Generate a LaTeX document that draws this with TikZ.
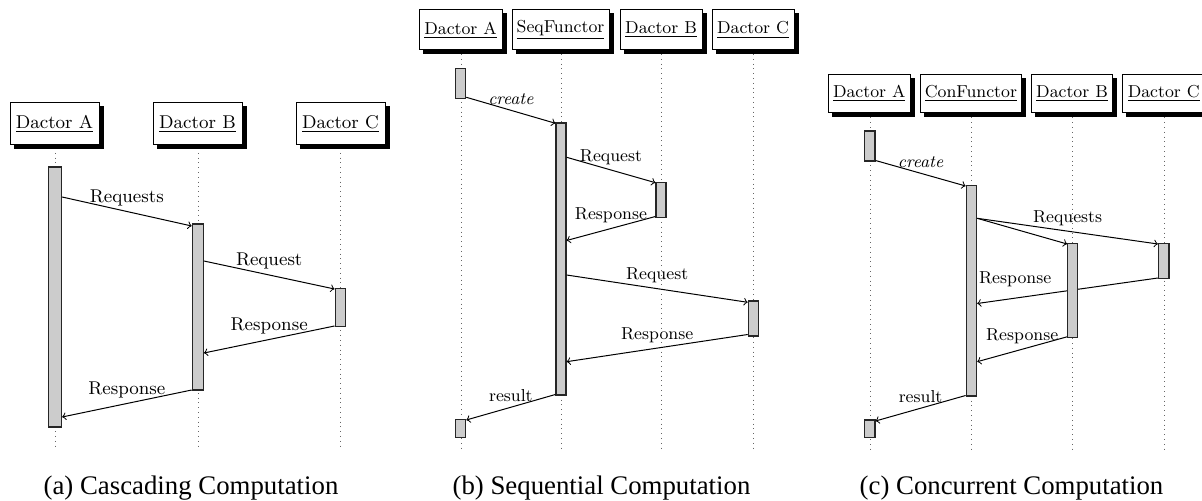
\documentclass[tikz,border=0pt]{standalone}
\usepackage{fontspec}
\setmainfont{Latin Modern Roman}
\newfontfamily\capfont{Liberation Serif}
\usetikzlibrary{shadows}
\tikzset{
  fa/.style={font=\fontsize{9.25}{11}\selectfont},
  fb/.style={font=\fontsize{8.65}{10}\selectfont},
  hdr/.style={draw=black, fill=white, inner sep=0pt, line width=0.5pt,
    general shadow={fill=black, draw=black, shadow xshift=2pt, shadow yshift=-2pt}},
  life/.style={draw=black!60, dotted, line width=0.4pt},
  act/.style={draw=black!85, fill=black!20, inner sep=0pt, line width=0.6pt},
  msg/.style={draw=black, ->, line width=0.5pt},
  lbl/.style={above, inner sep=2.5pt},
  captext/.style={font=\capfont\fontsize{13.4}{15}\selectfont, inner sep=0pt}
}
\begin{document}
\begin{tikzpicture}[x=0.5pt,y=-0.5pt]
\useasboundingbox (0,0) rectangle (1202,501);
% ================= (a) =================
\begin{scope}[fa]
\coordinate (aAe) at (55,450);
\coordinate (aBe) at (198,450);
\coordinate (aCe) at (340.5,450);
\draw[life] (55,124) -- (aAe);
\draw[life] (198,124) -- (aBe);
\draw[life] (340.5,124) -- (aCe);
\node[hdr, minimum width=44.5pt, minimum height=21pt] (aA) at (54.5,124) {\underline{Dactor A}};
\node[hdr, minimum width=44.5pt, minimum height=21pt] (aB) at (197.5,124) {\underline{Dactor B}};
\node[hdr, minimum width=44.5pt, minimum height=21pt] (aC) at (340.5,124) {\underline{Dactor C}};
\node[act, minimum width=6.5pt, minimum height=130pt] (aactA) at (55,297) {};
\node[act, minimum width=5.5pt, minimum height=83pt] (aactB) at (197.8,307) {};
\node[act, minimum width=5.3pt, minimum height=19pt] (aactC) at (340.4,307.5) {};
\draw[msg] (aactA.east |- 0,197) -- node[lbl]{Requests} (aactB.west |- 0,226);
\draw[msg] (aactB.east |- 0,261) -- node[lbl]{Request} (aactC.west |- 0,289);
\draw[msg] (aactC.west |- 0,326) -- node[lbl]{Response} (aactB.east |- 0,353);
\draw[msg] (aactB.west |- 0,390) -- node[lbl]{Response} (aactA.east |- 0,417);
\end{scope}
\node[captext] (capa) at (191,488) {(a) Cascading Computation};
% ================= (b) =================
\begin{scope}[fb]
\coordinate (bAe) at (461,451);
\coordinate (bSe) at (561,451);
\coordinate (bBe) at (661,451);
\coordinate (bCe) at (753,451);
\draw[life] (461,30) -- (bAe);
\draw[life] (561,30) -- (bSe);
\draw[life] (661,30) -- (bBe);
\draw[life] (753,30) -- (bCe);
\node[hdr, minimum width=41.5pt, minimum height=20pt] (bA) at (460.5,30) {\underline{Dactor A}};
\node[hdr, minimum width=48.5pt, minimum height=20pt] (bS) at (560.5,30) {\underline{SeqFunctor}};
\node[hdr, minimum width=41pt, minimum height=20pt] (bB) at (661,30) {\underline{Dactor B}};
\node[hdr, minimum width=41pt, minimum height=20pt] (bC) at (753,30) {\underline{Dactor C}};
\node[act, minimum width=5pt, minimum height=15pt] (bactA1) at (460.7,83.3) {};
\node[act, minimum width=5pt, minimum height=136pt] (bactS) at (561,259) {};
\node[act, minimum width=5pt, minimum height=17.5pt] (bactB) at (661,199.8) {};
\node[act, minimum width=5pt, minimum height=17.5pt] (bactC) at (753.3,318.5) {};
\node[act, minimum width=5pt, minimum height=9pt] (bactA2) at (460.7,428.3) {};
\draw[msg] (bactA1.east |- 0,97.3) -- node[lbl]{\itshape create} (bactS.west |- 0,123.3);
\draw[msg] (bactS.east |- 0,157.3) -- node[lbl]{Request} (bactB.west |- 0,182.7);
\draw[msg] (bactB.west |- 0,216.5) -- node[lbl]{Response} (bactS.east |- 0,240.5);
\draw[msg] (bactS.east |- 0,275) -- node[lbl]{Request} (bactC.west |- 0,302.3);
\draw[msg] (bactC.west |- 0,334.5) -- node[lbl]{Response} (bactS.east |- 0,361.7);
\draw[msg] (bactS.west |- 0,394.5) -- node[lbl]{result} (bactA2.east |- 0,420);
\end{scope}
\node[captext] (capb) at (601.5,488) {(b) Sequential Computation};
% ================= (c) =================
\begin{scope}[fb]
\coordinate (cAe) at (870,449);
\coordinate (cFe) at (971.5,449);
\coordinate (cBe) at (1072.5,449);
\coordinate (cCe) at (1164,449);
\draw[life] (870,93.5) -- (cAe);
\draw[life] (971.5,93.5) -- (cFe);
\draw[life] (1072.5,93.5) -- (cBe);
\draw[life] (1164,93.5) -- (cCe);
\node[hdr, minimum width=41pt, minimum height=19.25pt] (cA) at (869.2,93.5) {\underline{Dactor A}};
\node[hdr, minimum width=50.2pt, minimum height=19.25pt] (cF) at (970.9,93.5) {\underline{ConFunctor}};
\node[hdr, minimum width=40.3pt, minimum height=19.25pt] (cB) at (1072,93.5) {\underline{Dactor B}};
\node[hdr, minimum width=41pt, minimum height=19.25pt] (cC) at (1163.7,93.5) {\underline{Dactor C}};
\node[act, minimum width=5.2pt, minimum height=15pt] (cactA1) at (869.7,146) {};
\node[act, minimum width=5.2pt, minimum height=105.3pt] (cactF) at (971.4,290.6) {};
\node[act, minimum width=5.2pt, minimum height=17.3pt] (cactC) at (1163.7,261) {};
\node[act, minimum width=5.2pt, minimum height=8.6pt] (cactA2) at (869.7,428.6) {};
\draw[msg] (cactC.west |- 0,278) -- node[lbl, pos=0.79, yshift=3pt]{Response} (cactF.east |- 0,303.5);
\node[act, minimum width=5pt, minimum height=46.8pt] (cactB) at (1072.7,290.5) {};
\draw[msg] (cactA1.east |- 0,160.5) -- node[lbl]{\itshape create} (cactF.west |- 0,186);
\draw[msg] (cactF.east |- 0,218.3) -- (cactB.west |- 0,244);
\draw[msg] (cactF.east |- 0,218.3) -- node[lbl]{Requests} (cactC.west |- 0,244);
\draw[msg] (cactB.west |- 0,336.8) -- node[lbl]{Response} (cactF.east |- 0,361.7);
\draw[msg] (cactF.west |- 0,395.5) -- node[lbl]{result} (cactA2.east |- 0,421);
\end{scope}
\node[captext] (capc) at (1011.5,488) {(c) Concurrent Computation};
\end{tikzpicture}
\end{document}
